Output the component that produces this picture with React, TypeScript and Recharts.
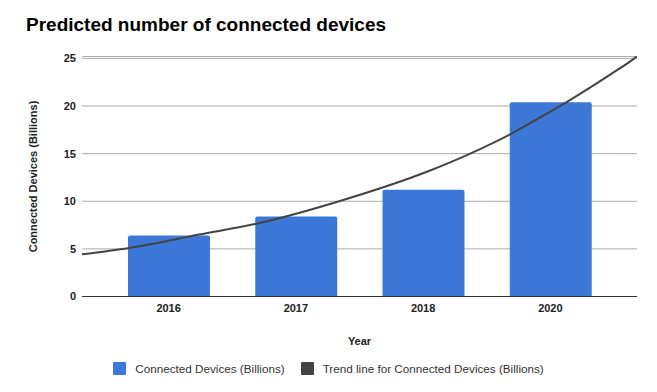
import React from 'react';
import { ComposedChart, Bar, Line, XAxis, YAxis, CartesianGrid, Legend } from 'recharts';

const years = ['2016', '2017', '2018', '2020'];
const devices = [6.4, 8.4, 11.2, 20.4];
const yTicks = [0, 5, 10, 15, 20, 25];
// trend line, x in category-index units (2016 = 1 ... 2020 = 4)
const trendX = [0.3, 0.69, 1.24, 1.71, 2.34, 3.05, 3.37, 3.68, 3.92, 4.15, 4.47, 4.65, 4.68];
const trendY = [4.4, 5.1, 6.5, 7.7, 10.0, 13.2, 15.0, 17.0, 18.8, 20.6, 23.3, 24.9, 25.2];

const barData = years.map((year, i) => ({ year, devices: devices[i] }));
const trendData = trendX.map((x, i) => ({ x, trend: trendY[i] }));

const W = 657;
const H = 392;
const margin = { top: 56.5, right: 20, bottom: 45.5, left: 0 };
const yAxisWidth = 82;
const plotW = W - margin.left - margin.right - yAxisWidth;
const catPad = 23;
const band = (plotW - 2 * catPad) / years.length;
const edge = (catPad + band / 2) / band;
const trendDomain = [1 - edge, years.length + edge];

const FONT = '"Liberation Sans", Arial, Helvetica, sans-serif';
const BLUE = '#3c78d8';
const DARK = '#434343';

const YLabel = (props: any) => {
  const vb = props.viewBox || { x: 0, y: 0, width: 0, height: 0 };
  const cx = vb.x + 33;
  const cy = vb.y + vb.height / 2;
  return (
    <text
      x={cx}
      y={cy}
      transform={`rotate(-90 ${cx} ${cy})`}
      textAnchor="middle"
      dominantBaseline="central"
      style={{ fontFamily: FONT, fontSize: 11, fontWeight: 'bold', fill: '#222' }}
    >
      Connected Devices (Billions)
    </text>
  );
};

const renderLegend = (props: any) => {
  const payload = props.payload || [];
  return (
    <div
      style={{
        display: 'flex',
        justifyContent: 'center',
        fontFamily: FONT,
        fontSize: 11.7,
        color: '#333',
        lineHeight: '13px',
      }}
    >
      {payload.map((p: any, i: number) => (
        <div key={i} style={{ display: 'flex', alignItems: 'center', marginLeft: i ? 16 : 0 }}>
          <span
            style={{
              display: 'inline-block',
              width: 13,
              height: 13,
              background: p.color,
              borderRadius: 1,
              marginRight: 9,
            }}
          />
          <span>{p.value}</span>
        </div>
      ))}
    </div>
  );
};

export default function App() {
  return (
    <div style={{ position: 'absolute', left: 0, top: 0, width: W, height: H, background: '#fff' }}>
      <div
        style={{
          position: 'absolute',
          left: 26,
          top: 15,
          fontFamily: FONT,
          fontSize: 19,
          lineHeight: '19px',
          fontWeight: 'bold',
          color: '#000',
          whiteSpace: 'nowrap',
        }}
      >
        Predicted number of connected devices
      </div>
      <ComposedChart width={W} height={H} data={barData} margin={margin}>
        <CartesianGrid vertical={false} stroke="#aaaaaa" />
        <XAxis
          xAxisId="cat"
          dataKey="year"
          type="category"
          padding={{ left: catPad, right: catPad }}
          tickLine={false}
          tickSize={0}
          tickMargin={8}
          axisLine={{ stroke: '#333' }}
          height={50}
          tick={{ fontFamily: FONT, fontSize: 11, fontWeight: 'bold', fill: '#222' }}
          label={{
            value: 'Year',
            position: 'insideBottom',
            offset: 2,
            style: { fontFamily: FONT, fontSize: 11, fontWeight: 'bold', fill: '#222' },
          }}
        />
        <XAxis
          xAxisId="trend"
          dataKey="x"
          type="number"
          domain={trendDomain}
          allowDataOverflow
          hide
        />
        <YAxis
          domain={[0, 25]}
          ticks={yTicks}
          width={yAxisWidth}
          axisLine={false}
          tickLine={false}
          tickSize={0}
          tickMargin={6}
          tick={{ fontFamily: FONT, fontSize: 11, fontWeight: 'bold', fill: '#222' }}
          label={<YLabel />}
        />
        <Bar
          xAxisId="cat"
          dataKey="devices"
          name="Connected Devices (Billions)"
          fill={BLUE}
          barSize={82}
          radius={[2, 2, 0, 0]}
          legendType="square"
          isAnimationActive={false}
        />
        <Line
          xAxisId="trend"
          data={trendData}
          dataKey="trend"
          name="Trend line for Connected Devices (Billions)"
          type="monotone"
          stroke={DARK}
          strokeWidth={2}
          dot={false}
          activeDot={false}
          legendType="square"
          isAnimationActive={false}
        />
        <Legend
          layout="vertical"
          align="center"
          verticalAlign="middle"
          content={renderLegend}
          wrapperStyle={{ top: 362, left: 0, width: W }}
        />
      </ComposedChart>
    </div>
  );
}
